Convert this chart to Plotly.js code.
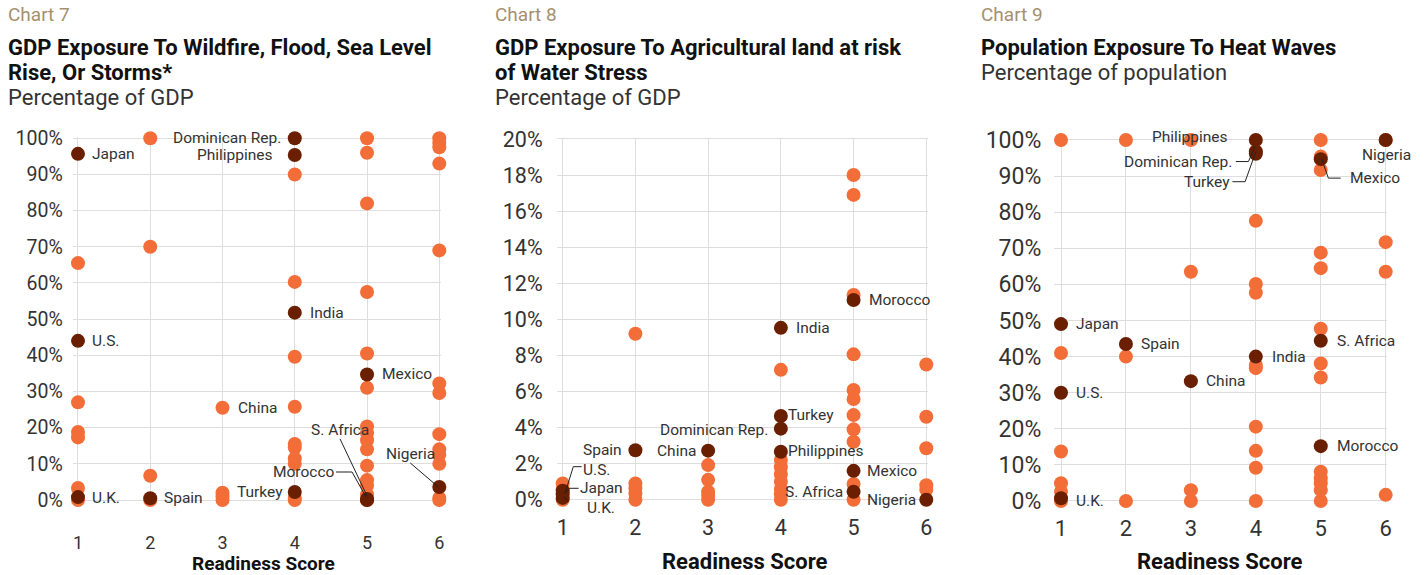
<!DOCTYPE html>
<html><head><meta charset="utf-8">
<script src="https://cdn.plot.ly/plotly-3.0.1.min.js"></script>
<style>html,body{margin:0;padding:0;background:#fff}#chart{width:1426px;height:575px}</style>
</head><body><div id="chart"></div>
<script>
// ================= DATA =================
const readinessTicks = [1, 2, 3, 4, 5, 6];
const pctTicks100 = [0, 10, 20, 30, 40, 50, 60, 70, 80, 90, 100];
const pctTicks20 = [0, 2, 4, 6, 8, 10, 12, 14, 16, 18, 20];

// Chart 7 — GDP exposure to wildfire, flood, sea level rise or storms (% of GDP)
const c7OtherX = [1,1,1,1,1,1, 2,2,2,2, 3,3,3,3, 4,4,4,4,4,4,4,4,4,4, 5,5,5,5,5,5,5,5,5,5,5,5,5,5,5, 6,6,6,6,6,6,6,6,6,6,6,6,6];
const c7OtherY = [65.5,27,18.8,17.3,3.3,0, 100,70,6.7,0, 25.5,2,1,0, 90,60.3,39.6,25.8,15.5,14.5,11.5,10,0.6,0, 100,96,82,57.5,40.5,31,20.3,18.5,16.5,14,9.5,5.5,4,1.5,0, 100,98.8,97.5,93,69,32.2,29.6,18.2,14,12.5,10,0.6,0];
const c7Countries = ["Japan","U.S.","U.K.","Spain","Dominican Rep.","Philippines","India","Turkey","Mexico","S. Africa","Morocco","Nigeria"];
const c7CountryX = [1,1,1,2,4,4,4,4,5,5,5,6];
const c7CountryY = [95.7,44,0.8,0.5,100,95.4,51.8,2.2,34.7,0.3,0,3.6];
const c7PlainLabels = ["China"];
const c7PlainLabelX = [3];
const c7PlainLabelY = [25.5];

// Chart 8 — GDP exposure to agricultural land at risk of water stress (% of GDP)
const c8OtherX = [1,1,1, 2,2,2,2,2, 3,3,3,3,3, 4,4,4,4,4,4,4,4, 5,5,5,5,5,5,5,5,5,5,5, 6,6,6,6,6];
const c8OtherY = [0.9,0.6,0, 9.2,0.9,0.63,0.35,0, 1.92,1.1,0.45,0.26,0, 7.2,2.2,1.8,1.4,1.0,0.6,0.3,0, 18,16.9,11.35,8.06,6.08,5.58,4.69,3.9,3.21,0.87,0, 7.5,4.6,2.85,0.8,0.55];
const c8Countries = ["U.S.","Japan","U.K.","Spain","China","India","Turkey","Dominican Rep.","Philippines","Morocco","Mexico","S. Africa","Nigeria"];
const c8CountryX = [1,1,1,2,3,4,4,4,4,5,5,5,6];
const c8CountryY = [0.5,0.3,0.1,2.74,2.72,9.53,4.64,3.94,2.66,11.07,1.6,0.44,0];

// Chart 9 — Population exposure to heat waves (% of population)
const c9OtherX = [1,1,1,1,1,1, 2,2,2, 3,3,3,3, 4,4,4,4,4,4,4,4,4, 5,5,5,5,5,5,5,5,5,5,5,5,5, 6,6,6,6];
const c9OtherY = [100,41,13.7,4.9,2.6,0, 100,40,0, 100,63.5,3,0, 77.6,60.1,57.7,37.7,36.8,20.6,13.9,9.2,0, 100,95.4,91.7,68.8,64.5,47.7,38.1,34.2,8.1,6.3,4.9,3,0, 100,71.7,63.5,1.7];
const c9Countries = ["Japan","U.S.","U.K.","Spain","China","Philippines","Dominican Rep.","Turkey","India","Mexico","S. Africa","Morocco","Nigeria"];
const c9CountryX = [1,1,1,2,3,4,4,4,4,5,5,5,6];
const c9CountryY = [49,30,0.75,43.5,33.2,100,96.8,96.2,40,94.7,44.4,15.2,100];

// ================= STYLE =================
const W = 1426, H = 575;
const ORANGE = "#F36D38", DARK = "#6A1F00", GRID = "#dedede", TXT = "#333333", TAN = "#A6906F";
const FONT = "Roboto, 'Open Sans', sans-serif";

// label placement (screen px offsets from the point; dy positive = down)
const c7Place = {
  "Japan": {a:"left", dx:14, dy:0}, "U.S.": {a:"left", dx:14, dy:0}, "U.K.": {a:"left", dx:14, dy:1},
  "Spain": {a:"left", dx:14, dy:0}, "China": {a:"left", dx:15, dy:0}, "India": {a:"left", dx:15, dy:0},
  "Mexico": {a:"left", dx:15, dy:0}, "Dominican Rep.": {a:"right", dx:-14, dy:0},
  "Philippines": {a:"right", dx:-22, dy:0}, "Turkey": {a:"right", dx:-12, dy:0},
  "S. Africa": {a:"center", dx:-27, dy:-69, path:[[-27,-60],[0,-3]]},
  "Morocco": {a:"center", dx:-63, dy:-28, path:[[-31,-28],[-15,-28],[-1,-3]]},
  "Nigeria": {a:"center", dx:-29, dy:-33, path:[[-29,-24],[-1,0]]}
};
const c8Place = {
  "U.S.": {a:"left", dx:20, dy:-21, path:[[19,-24],[10.6,-24],[2.3,2.6]]},
  "Japan": {a:"left", dx:17, dy:-6, path:[[16,-6],[7,-6],[1,-1]]},
  "U.K.": {a:"left", dx:24, dy:10.5, path:[[22,9],[12,9],[0.6,-1]]},
  "Spain": {a:"right", dx:-13, dy:0}, "China": {a:"right", dx:-12, dy:0},
  "Dominican Rep.": {a:"right", dx:-13, dy:1}, "India": {a:"left", dx:15, dy:0},
  "Turkey": {a:"left", dx:7, dy:-1}, "Philippines": {a:"left", dx:7, dy:-1},
  "Morocco": {a:"left", dx:15, dy:0}, "Mexico": {a:"left", dx:13, dy:0},
  "S. Africa": {a:"right", dx:-11, dy:0}, "Nigeria": {a:"right", dx:-10, dy:0}
};
const c9Place = {
  "Japan": {a:"left", dx:15, dy:0}, "U.S.": {a:"left", dx:15, dy:0}, "U.K.": {a:"left", dx:15, dy:3},
  "Spain": {a:"left", dx:15, dy:0}, "China": {a:"left", dx:15, dy:0}, "India": {a:"left", dx:16, dy:0},
  "S. Africa": {a:"left", dx:16, dy:0}, "Morocco": {a:"left", dx:16, dy:0},
  "Philippines": {a:"right", dx:-28, dy:-3, path:[[-13,-3],[-1,-3]]},
  "Dominican Rep.": {a:"right", dx:-23.5, dy:10, path:[[-20,10],[-7.4,10],[-0.7,-5]]},
  "Turkey": {a:"right", dx:-25.7, dy:28.6, path:[[-23.4,28],[-10.7,28],[0,-2]]},
  "Mexico": {a:"left", dx:29, dy:19, path:[[1,0],[7.6,19],[20,19]]},
  "Nigeria": {a:"center", dx:1, dy:15}
};

// pixel geometry of each panel: value->pixel anchor pairs
function domainFrom(pA, pB, vA, vB, r0, r1, total, vertical) {
  const k = (pB - pA) / (vB - vA);
  const p0 = pA + (r0 - vA) * k, p1 = pA + (r1 - vA) * k;
  return vertical ? [(total - p0) / total, (total - p1) / total] : [p0 / total, p1 / total];
}

const panels = [
  {id:"", xs:"x", ys:"y", xpx:[78,439.3], xr:[0.927,6.02], ypx:[500,138.3], yv:[0,100], yr:[-0.4,100.4], yt:pctTicks100,
   ox:c7OtherX, oy:c7OtherY, names:c7Countries, cx:c7CountryX, cy:c7CountryY, place:c7Place,
   ytf:19.5, xtf:18, ystand:9, xstand:29},
  {id:"2", xs:"x2", ys:"y2", xpx:[562.7,926.3], xr:[0.9175,6.02], ypx:[499.7,139], yv:[0,20], yr:[-0.08,20.08], yt:pctTicks20,
   ox:c8OtherX, oy:c8OtherY, names:c8Countries, cx:c8CountryX, cy:c8CountryY, place:c8Place,
   ytf:21.5, xtf:21.5, ystand:13, xstand:11},
  {id:"3", xs:"x3", ys:"y3", xpx:[1061,1385.7], xr:[0.897,6.02], ypx:[501,140], yv:[0,100], yr:[-0.4,100.4], yt:pctTicks100,
   ox:c9OtherX, oy:c9OtherY, names:c9Countries, cx:c9CountryX, cy:c9CountryY, place:c9Place,
   ytf:23, xtf:22, ystand:12, xstand:11}
];

const data = [], annotations = [], shapes = [];
const layout = {
  width: W, height: H, autosize: false, showlegend: false,
  margin: {l:0, r:0, t:0, b:0, pad:0},
  paper_bgcolor: "#ffffff", plot_bgcolor: "#ffffff",
  font: {family: FONT, color: TXT},
  hovermode: false, annotations, shapes
};

function addLabel(p, name, x, y, pl) {
  annotations.push({
    xref: p.xs, yref: p.ys, x: x, y: y, text: name, showarrow: false,
    xanchor: pl.a, yanchor: "middle", xshift: pl.dx, yshift: -pl.dy,
    borderpad: 0, borderwidth: 0,
    font: {family: FONT, size: 15.5, color: TXT}
  });
  if (pl.path) {
    const d = pl.path.map((pt, i) => (i ? "L" : "M") + pt[0] + "," + (-pt[1])).join(" ");
    shapes.push({type:"path", xref:p.xs, yref:p.ys, xsizemode:"pixel", ysizemode:"pixel",
      xanchor:x, yanchor:y, path:d, line:{color:"#222222", width:1}, layer:"above"});
  }
}

panels.forEach(p => {
  const xd = domainFrom(p.xpx[0], p.xpx[1], 1, 6, p.xr[0], p.xr[1], W, false);
  const yd = domainFrom(p.ypx[0], p.ypx[1], p.yv[0], p.yv[1], p.yr[0], p.yr[1], H, true);
  layout["xaxis" + p.id] = {
    domain: xd, range: p.xr, anchor: p.ys, tickvals: readinessTicks, ticktext: readinessTicks.map(String),
    showgrid: true, gridcolor: GRID, gridwidth: 1, zeroline: false, showline: false, ticks: "",
    ticklabelstandoff: p.xstand, tickfont: {family: FONT, size: p.xtf, color: TXT}, fixedrange: true
  };
  layout["yaxis" + p.id] = {
    domain: yd, range: p.yr, anchor: p.xs, tickvals: p.yt, ticktext: p.yt.map(v => v + "%"),
    showgrid: true, gridcolor: GRID, gridwidth: 1, zeroline: false, showline: false, ticks: "",
    ticklabelstandoff: p.ystand, tickfont: {family: FONT, size: p.ytf, color: TXT}, fixedrange: true
  };
  data.push({type:"scatter", mode:"markers", x:p.ox, y:p.oy, xaxis:p.xs, yaxis:p.ys, cliponaxis:false,
    marker:{size:14, color:ORANGE, line:{width:0}}, hoverinfo:"skip"});
  data.push({type:"scatter", mode:"markers", x:p.cx, y:p.cy, xaxis:p.xs, yaxis:p.ys, cliponaxis:false,
    text:p.names, marker:{size:14, color:DARK, line:{width:0}}, hoverinfo:"skip"});
  p.names.forEach((n, i) => addLabel(p, n, p.cx[i], p.cy[i], p.place[n]));
});
// label on a non-highlighted point (chart 7)
c7PlainLabels.forEach((n, i) => addLabel(panels[0], n, c7PlainLabelX[i], c7PlainLabelY[i], c7Place[n]));

// titles
function paperText(text, px, py, size, color, bold, anchor) {
  annotations.push({xref:"paper", yref:"paper", x:px / W, y:1 - py / H, text: bold ? "<b>" + text + "</b>" : text,
    showarrow:false, xanchor: anchor || "left", yanchor:"middle", borderpad:0, borderwidth:0,
    font:{family: FONT, size: size, color: color}});
}
const titleBlocks = [
  {x:8, chart:"Chart 7", lines:["GDP Exposure To Wildfire, Flood, Sea Level", "Rise, Or Storms*"], sub:"Percentage of GDP"},
  {x:495, chart:"Chart 8", lines:["GDP Exposure To Agricultural land at risk", "of Water Stress"], sub:"Percentage of GDP"},
  {x:981, chart:"Chart 9", lines:["Population Exposure To Heat Waves"], sub:"Percentage of population"}
];
titleBlocks.forEach(t => {
  paperText(t.chart, t.x, 15, 19, TAN, false);
  t.lines.forEach((l, i) => paperText(l, t.x, 47 + i * 25.5, 22, "#111111", true));
  paperText(t.sub, t.x, 47 + t.lines.length * 25.5, 22, TXT, false);
});
paperText("Readiness Score", 263.5, 563, 19, "#111111", true, "center");
paperText("Readiness Score", 745.5, 561, 22, "#111111", true, "center");
paperText("Readiness Score", 1220, 561, 22, "#111111", true, "center");

Plotly.newPlot("chart", data, layout, {staticPlot: true, displayModeBar: false});
</script></body></html>
